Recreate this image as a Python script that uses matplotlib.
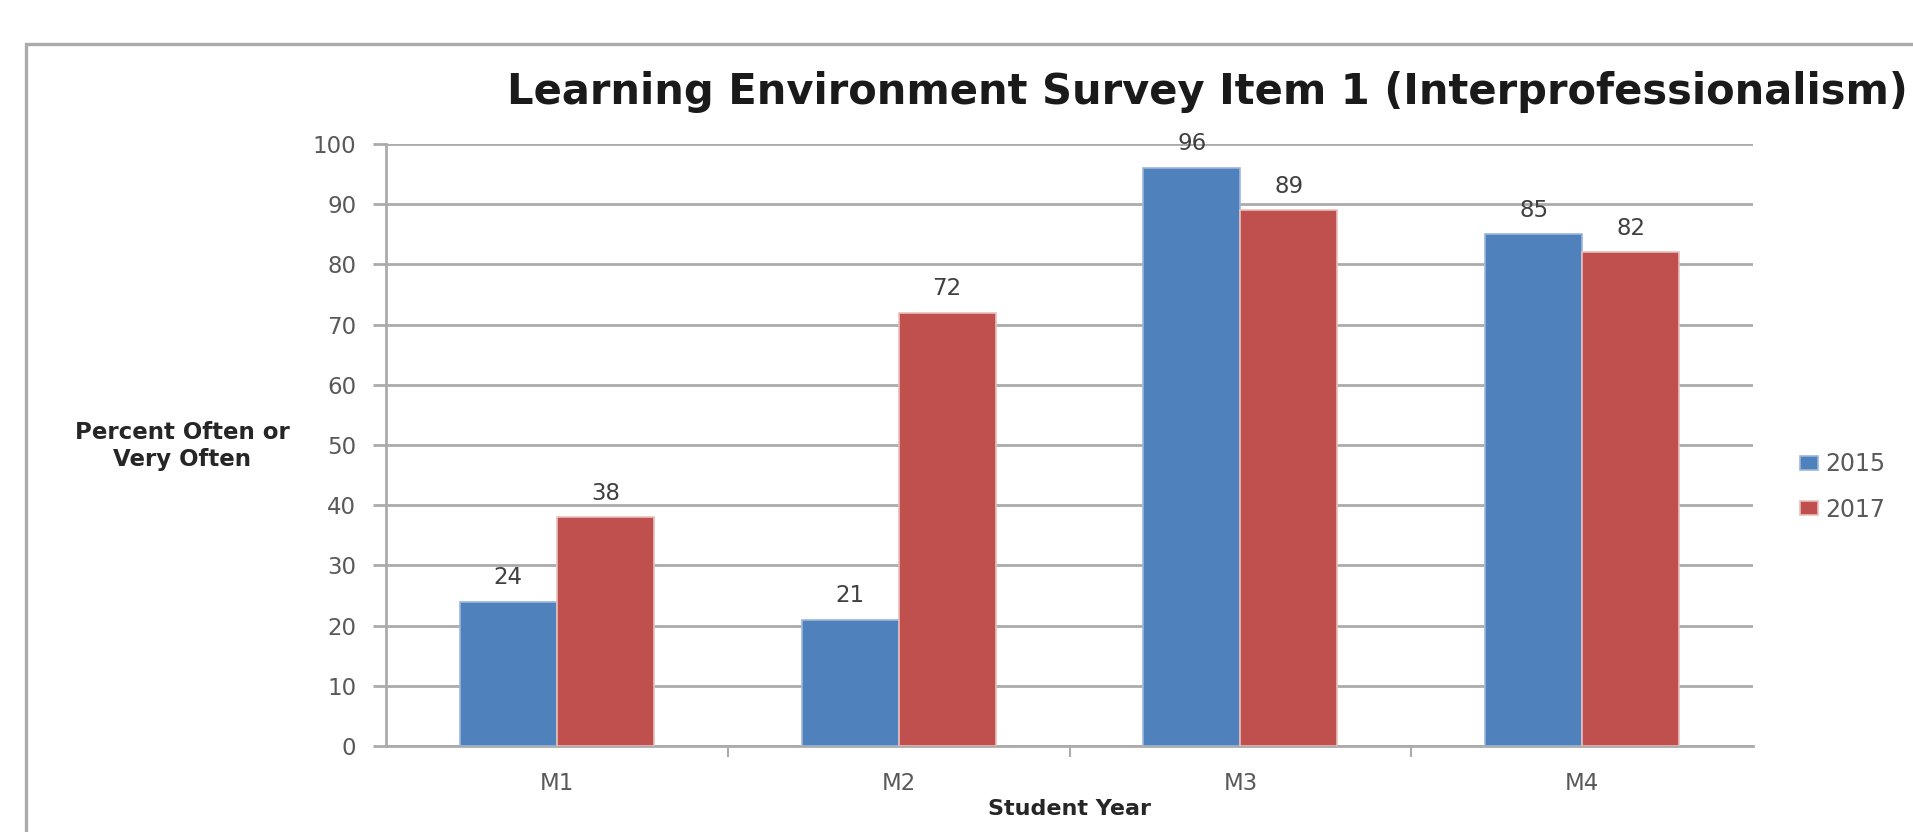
import matplotlib
matplotlib.use("Agg")
import matplotlib.pyplot as plt
from matplotlib.patches import Rectangle
import numpy as np

categories = ["M1", "M2", "M3", "M4"]
series_names = ["2015", "2017"]
values_2015 = [24, 21, 96, 85]
values_2017 = [38, 72, 89, 82]
yticks = [0, 10, 20, 30, 40, 50, 60, 70, 80, 90, 100]

W, H = 1913, 832
fig = plt.figure(figsize=(W / 100, H / 100), dpi=100)

# outer chart border (extends past right and bottom edges)
fig.patches.append(Rectangle((26 / W, -0.2), 1.2, (H - 44) / H + 0.2,
                             transform=fig.transFigure, fill=False,
                             edgecolor="#ABABAB", linewidth=2.4))

ax = fig.add_axes([386 / W, 86 / H, (1753 - 386) / W, (746 - 144) / H])

x = np.arange(len(categories))
bw = 0.284
blue, red = "#4F81BD", "#C0504D"
b1 = ax.bar(x - bw / 2, values_2015, bw, color=blue, edgecolor="#9BB7DB",
            linewidth=1.2, zorder=3, label=series_names[0])
b2 = ax.bar(x + bw / 2, values_2017, bw, color=red, edgecolor="#E8C0BF",
            linewidth=1.2, zorder=3, label=series_names[1])

for bars, vals in ((b1, values_2015), (b2, values_2017)):
    for rect, v in zip(bars, vals):
        ax.text(rect.get_x() + rect.get_width() / 2, v + 4.0, str(v),
                ha="center", va="center", fontsize=16.5, color="#404040",
                family="DejaVu Sans", zorder=4)

ax.set_xlim(-0.5, 3.5)
ax.set_ylim(0, 100)
ax.set_yticks(yticks)
ax.set_yticklabels([str(t) for t in yticks], family="DejaVu Sans")
ax.set_xticks(x)
ax.set_xticklabels(categories, family="DejaVu Sans")
ax.set_xticks([0.5, 1.5, 2.5], minor=True)

ax.yaxis.grid(True, color="#ABABAB", linewidth=2.0, zorder=0)
ax.set_axisbelow(True)
for s in ("top", "right"):
    ax.spines[s].set_visible(False)
for s in ("left", "bottom"):
    ax.spines[s].set_color("#ABABAB")
    ax.spines[s].set_linewidth(2.0)

ax.tick_params(axis="y", which="major", length=9.4, width=2, color="#ABABAB",
               labelsize=16.5, labelcolor="#595959", pad=12)
ax.tick_params(axis="x", which="major", length=0, labelsize=16.5,
               labelcolor="#595959", pad=19)
ax.tick_params(axis="x", which="minor", length=8, width=1.5, color="#ABABAB")

fig.text(1069 / W, 1 - 809 / H, "Student Year", ha="center", va="center",
         fontsize=16, fontweight="bold", color="#262626",
         family="DejaVu Sans")

fig.text(182 / W, 1 - 446 / H, "Percent Often or\nVery Often", ha="center",
         va="center", fontsize=16.5, fontweight="bold", color="#262626",
         family="DejaVu Sans", linespacing=1.2)

fig.text(1207 / W, 1 - 92 / H,
         "Learning Environment Survey Item 1 (Interprofessionalism)",
         ha="center", va="center", fontsize=30, fontweight="bold",
         color="#1A1A1A", family="DejaVu Sans")

leg = ax.legend(handles=[b1, b2], loc="center left",
                bbox_to_anchor=(1800 / W, 1 - 487 / H),
                bbox_transform=fig.transFigure, frameon=False,
                borderpad=0, borderaxespad=0,
                handlelength=0.78, handleheight=0.55, handletextpad=0.28,
                labelspacing=0.9, prop={"family": "DejaVu Sans", "size": 17})
for t in leg.get_texts():
    t.set_color("#595959")

fig.savefig("out.png", dpi=100)
